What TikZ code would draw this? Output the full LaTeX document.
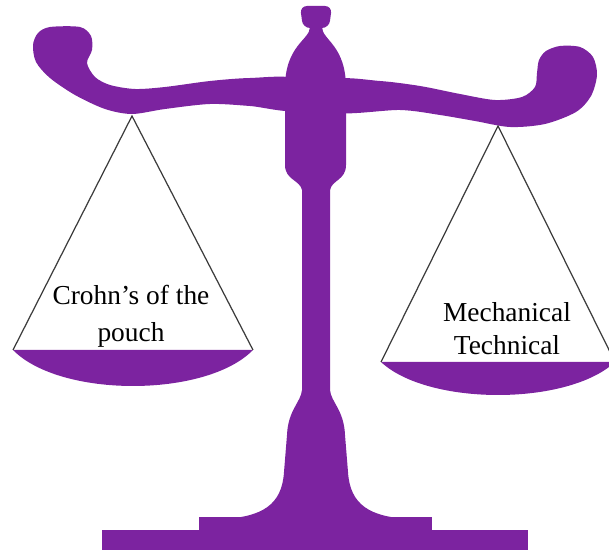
\documentclass[tikz,border=0pt]{standalone}
\usepackage{fontspec}
\setmainfont{Liberation Serif}
\definecolor{paars}{RGB}{124,35,160}
\definecolor{touwgrijs}{RGB}{60,60,60}
\tikzset{
  balans/.style={fill=paars},
  touw/.style={draw=touwgrijs, line width=0.7pt},
  tekst/.style={font=\fontsize{15.6}{19}\selectfont, anchor=base}
}
\begin{document}
\begin{tikzpicture}[x=0.02cm, y=-0.02cm]
\useasboundingbox (0,0) rectangle (609,553);
% Armen
\fill[balans] plot[smooth cycle] coordinates {(33,45) (38,33) (50,27) (80,27) (91,36) (92,50) (87,63) (95,77) (110,85) (135,89) (165,87) (210,81) (250,78) (295,79) (295,110) (250,106) (210,104) (165,109) (132,114) (105,109) (75,95) (50,78) (36,62)};
\fill[balans] plot[smooth cycle] coordinates {(335,80) (380,81) (420,86) (460,94) (495,100) (522,97) (535,87) (537,73) (539,60) (546,51) (560,46) (580,47) (593,57) (597,75) (591,96) (576,112) (545,124) (510,127) (475,121) (440,115) (400,110) (335,112)};
% Knop en lijf
\fill[balans, rounded corners=4] (300,6) -- (332,6) -- (329,28) -- (303,28) -- cycle;
\fill[balans] (310,27) -- (322,27) .. controls (322,40) and (346,45) .. (346,88) -- (346,165)
  .. controls (346,180) and (332,180) .. (330,190) -- (302,190)
  .. controls (300,180) and (285,180) .. (285,165) -- (285,88)
  .. controls (285,45) and (310,40) .. (310,27) -- cycle;
% Stang en voet
\fill[balans] (302,185) -- (302,390) .. controls (301,402) and (288,410) .. (287,435) -- (284,472)
  .. controls (282,505) and (262,517) .. (222,519) -- (410,519)
  .. controls (370,517) and (350,505) .. (348,472) -- (345,435)
  .. controls (344,410) and (331,402) .. (330,390) -- (330,185) -- cycle;
\fill[balans] (199,517) rectangle (432,532);
\fill[balans] (102,530) rectangle (528,550);
% Schalen
\fill[balans] (13,350) .. controls (60,398) and (206,398) .. (253,350) -- cycle;
\fill[balans] (381,362) .. controls (428,406) and (568,406) .. (615,362) -- cycle;
% Touwen
\coordinate (ophangL) at (132,116);
\coordinate (schaalLa) at (13,350);
\coordinate (schaalLb) at (253,350);
\coordinate (ophangR) at (498,126);
\coordinate (schaalRa) at (381,362);
\coordinate (schaalRb) at (615,362);
\draw[touw] (schaalLa) -- (ophangL) -- (schaalLb);
\draw[touw] (schaalRa) -- (ophangR) -- (schaalRb);
% Teksten
\node[tekst] (crohn) at (131,305) {Crohn’s of the};
\node[tekst] (pouch) at (131,342) {pouch};
\node[tekst] (mech) at (507,322) {Mechanical};
\node[tekst] (techn) at (507,355) {Technical};
\end{tikzpicture}
\end{document}
